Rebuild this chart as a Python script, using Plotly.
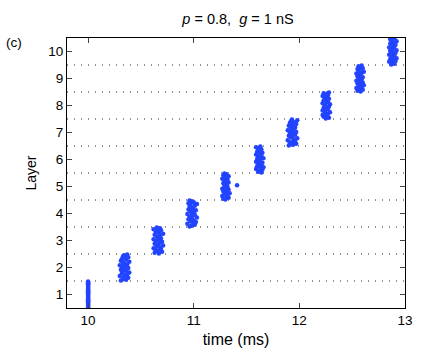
import plotly.graph_objects as go

# Raster of spike times per layer (layer 1 is the stimulated input layer)
layers = [1, 2, 3, 4, 5, 6, 7, 8, 9, 10]
burst_center = [10.00, 10.34, 10.66, 10.98, 11.30, 11.62, 11.93, 12.25, 12.57, 12.88]

# per-neuron spike jitter around the burst centre, in units of 0.01 ms (30 neurons per layer)
jitter = {
    1: [0] * 30,
    2: [-3, 2, -1, 4, 0, -4, 1, 3, -2, 5, -1, 2, -3, 0, 4, -2, 1, -4, 3, 0, -1, 5, -3, 2, -2, 1, 4, -1, 0, 3],
    3: [1, -3, 4, 0, -2, 3, -4, 2, -1, 5, 0, -3, 2, 4, -2, 1, -4, 3, 0, -1, 2, -3, 5, 1, -2, 0, 3, -4, 2, -1],
    4: [-2, 0, 3, -4, 1, 4, -1, 2, -3, 0, 5, -2, 1, 3, -4, 0, 2, -1, 4, -3, 1, 0, -2, 3, -1, 5, -3, 2, 0, -2],
    5: [0, -2, 3, 1, -3, 2, -1, 4, 0, -2, 1, 3, -3, 0, 2, -1, 11, 1, -2, 3, 0, -1, 2, -3, 1, 0, 3, -2, 1, -1],
    6: [2, -1, 0, 3, -3, 1, 4, -2, 0, 2, -1, 3, -3, 1, 0, -2, 4, 1, -1, 2, -3, 0, 3, -2, 1, -1, 2, 0, -3, 1],
    7: [-3, 1, 4, -2, 0, 3, -4, 2, 5, -1, 0, -3, 3, 1, -2, 4, 0, -4, 2, -1, 3, 1, -3, 0, 4, -2, 2, -1, 5, 0],
    8: [0, 3, -2, 1, -3, 2, 0, 4, -1, -3, 2, 1, -2, 3, 0, -1, 4, -3, 1, 2, -2, 0, 3, -1, 1, -3, 2, 0, -2, 3],
    9: [1, -2, 3, 0, -3, 2, -1, 4, 0, -2, 3, 1, -3, 0, 2, -1, 3, -2, 1, 0, -3, 2, 4, -1, 0, -2, 3, 1, -1, 2],
    10: [-1, 2, 0, -3, 3, 1, -2, 4, 0, -1, 2, -3, 1, 3, 0, -2, 4, -1, 1, -3, 2, 0, 3, -2, 1, -1, 4, 0, -2, 2],
}

blue = "#2244ff"

times, rows = [], []
for layer, centre in zip(layers, burst_center):
    offs = jitter[layer]
    n = len(offs)
    for i, o in enumerate(offs):
        times.append(centre + o / 100)
        rows.append(layer - 0.5 + (i + 0.5) / n)

fig = go.Figure()
fig.add_trace(go.Scatter(
    x=times, y=rows, mode="markers",
    marker=dict(color=blue, size=4.5, line=dict(width=0)),
    showlegend=False, hoverinfo="skip",
))

# dotted separators between layers
for b in [1.5, 2.5, 3.5, 4.5, 5.5, 6.5, 7.5, 8.5, 9.5]:
    fig.add_shape(type="line", xref="paper", x0=0, x1=1, yref="y", y0=b, y1=b,
                  line=dict(color="#222222", width=1, dash="1px,6px"), layer="below")

axis_font = dict(family="Liberation Sans, Arial, sans-serif", size=13, color="black")

fig.update_layout(
    width=425, height=358,
    margin=dict(l=67, r=16, t=38, b=50),
    paper_bgcolor="white", plot_bgcolor="white",
    font=axis_font,
    title=dict(text="<i>p</i> = 0.8,  <i>g</i> = 1 nS", x=0.56, xanchor="center",
               y=0.947, yanchor="middle", font=dict(size=14.5)),
    annotations=[dict(text="(c)", xref="paper", yref="paper", x=-0.158, y=0.985,
                      xanchor="center", yanchor="middle", showarrow=False, font=dict(size=13.5))],
)
fig.update_xaxes(
    range=[9.8, 13], tickvals=[10, 11, 12, 13], ticks="inside", ticklen=5,
    showline=True, linecolor="black", linewidth=1, mirror="ticks",
    showgrid=False, zeroline=False, tickfont=dict(size=13.5),
    title=dict(text="time (ms)", standoff=6),
)
fig.update_yaxes(
    range=[0.5, 10.5], tickvals=layers, ticks="inside", ticklen=5,
    showline=True, linecolor="black", linewidth=1, mirror="ticks",
    showgrid=False, zeroline=False, tickfont=dict(size=13.5),
    title=dict(text="Layer", standoff=8, font=dict(size=14)),
)

fig.write_html("out.html", config={"displayModeBar": False},
               post_script="document.body.style.margin='0';")
